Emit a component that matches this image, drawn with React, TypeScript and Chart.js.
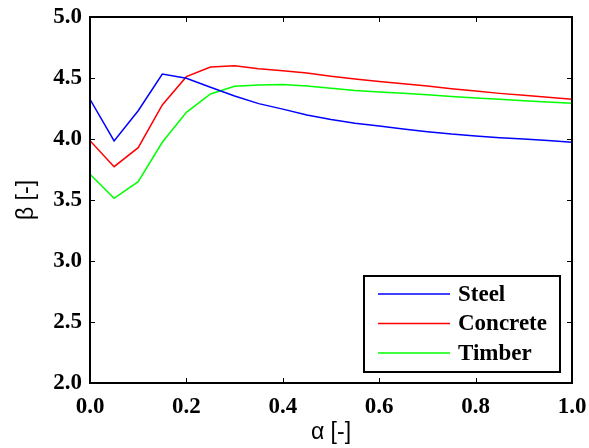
import React, { useEffect, useRef } from "react";
import { Chart, registerables } from "chart.js";

Chart.register(...registerables);

const alphaValues = [0, 0.05, 0.1, 0.15, 0.2, 0.25, 0.3, 0.35, 0.4, 0.45, 0.5, 0.55, 0.6, 0.65, 0.7, 0.75, 0.8, 0.85, 0.9, 0.95, 1.0];
const steel = [4.325, 3.984, 4.232, 4.533, 4.498, 4.424, 4.352, 4.29, 4.245, 4.197, 4.16, 4.13, 4.106, 4.082, 4.06, 4.04, 4.025, 4.011, 3.999, 3.987, 3.973];
const concrete = [3.986, 3.773, 3.929, 4.279, 4.511, 4.59, 4.6, 4.576, 4.56, 4.54, 4.515, 4.492, 4.472, 4.453, 4.434, 4.412, 4.393, 4.374, 4.358, 4.343, 4.325];
const timber = [3.711, 3.514, 3.65, 3.973, 4.219, 4.369, 4.432, 4.443, 4.447, 4.434, 4.415, 4.398, 4.386, 4.376, 4.362, 4.348, 4.336, 4.325, 4.314, 4.304, 4.293];
const seriesLabels = ["Steel", "Concrete", "Timber"];
const seriesColors = ["#0000ff", "#ff0000", "#00ff00"];
const xTicks = [0, 0.2, 0.4, 0.6, 0.8, 1.0];
const yTicks = [2.0, 2.5, 3.0, 3.5, 4.0, 4.5, 5.0];

const boxPlugin = {
  id: "matlabBox",
  afterDatasetsDraw(chart: any) {
    const { ctx, chartArea: a, scales } = chart;
    const xs = scales.x;
    const ys = scales.y;
    ctx.save();
    ctx.strokeStyle = "#000";
    ctx.lineWidth = 1;
    const tl = 5;
    ctx.beginPath();
    for (const v of xTicks) {
      const px = Math.round(xs.getPixelForValue(v)) + 0.5;
      ctx.moveTo(px, a.bottom);
      ctx.lineTo(px, a.bottom - tl);
      ctx.moveTo(px, a.top);
      ctx.lineTo(px, a.top + tl);
    }
    for (const v of yTicks) {
      const py = Math.round(ys.getPixelForValue(v)) + 0.5;
      ctx.moveTo(a.left, py);
      ctx.lineTo(a.left + tl, py);
      ctx.moveTo(a.right, py);
      ctx.lineTo(a.right - tl, py);
    }
    ctx.stroke();
    ctx.lineWidth = 2;
    ctx.strokeRect(a.left, a.top, a.right - a.left, a.bottom - a.top);

    // legend box
    const lx = 364, ly = 276, lw = 196, lh = 96;
    ctx.fillStyle = "#fff";
    ctx.fillRect(lx, ly, lw, lh);
    ctx.lineWidth = 2;
    ctx.strokeRect(lx, ly, lw, lh);
    ctx.font = "bold 23px 'Liberation Serif'";
    ctx.textBaseline = "middle";
    ctx.textAlign = "left";
    chart.data.datasets.forEach((ds: any, i: number) => {
      const y = ly + 18 + i * 29.5;
      ctx.strokeStyle = ds.borderColor;
      ctx.lineWidth = 1.5;
      ctx.beginPath();
      ctx.moveTo(lx + 14, y);
      ctx.lineTo(lx + 86, y);
      ctx.stroke();
      ctx.fillStyle = "#000";
      ctx.fillText(ds.label, lx + 94, y + 1);
    });
    ctx.restore();
  },
};

export default function App() {
  const ref = useRef<HTMLCanvasElement | null>(null);
  useEffect(() => {
    document.body.style.margin = "0";
    const canvas = ref.current!;
    const data = {
      datasets: [steel, concrete, timber].map((vals, i) => ({
        label: seriesLabels[i],
        data: vals.map((v, j) => ({ x: alphaValues[j], y: v })),
        borderColor: seriesColors[i],
        backgroundColor: seriesColors[i],
        borderWidth: 1.5,
        pointRadius: 0,
        tension: 0,
      })),
    };
    const chart = new Chart(canvas, {
      type: "line",
      data: data as any,
      options: {
        animation: false,
        responsive: false,
        maintainAspectRatio: false,
        layout: { padding: { top: 17, right: 17, left: 0, bottom: 0 } },
        plugins: { legend: { display: false }, tooltip: { enabled: false } },
        scales: {
          x: {
            type: "linear",
            min: 0,
            max: 1,
            afterBuildTicks: (s: any) => {
              s.ticks = xTicks.map((v) => ({ value: v }));
            },
            afterFit: (s: any) => {
              s.height = 65;
              s.paddingLeft = 0;
              s.paddingRight = 0;
            },
            grid: { display: false, drawTicks: false },
            border: { display: false },
            ticks: {
              color: "#000",
              font: { family: "Liberation Serif", size: 23, weight: "bold" },
              padding: 10,
              maxRotation: 0,
              callback: (v: any) => Number(v).toFixed(1),
            },
            title: {
              display: true,
              text: "α [-]",
              color: "#000",
              font: { family: "Liberation Sans", size: 23 },
              padding: { top: 0, bottom: 2 },
            },
          },
          y: {
            type: "linear",
            min: 2,
            max: 5,
            afterBuildTicks: (s: any) => {
              s.ticks = yTicks.map((v) => ({ value: v }));
            },
            afterFit: (s: any) => {
              s.width = 90;
              s.paddingTop = 0;
              s.paddingBottom = 0;
            },
            grid: { display: false, drawTicks: false },
            border: { display: false },
            ticks: {
              color: "#000",
              font: { family: "Liberation Serif", size: 23, weight: "bold" },
              padding: 8,
              callback: (v: any) => Number(v).toFixed(1),
            },
            title: {
              display: true,
              text: "β [-]",
              color: "#000",
              font: { family: "Liberation Sans", size: 23 },
              padding: { top: 13, bottom: 0 },
            },
          },
        },
      },
      plugins: [boxPlugin],
    } as any);
    return () => chart.destroy();
  }, []);
  return (
    <div style={{ width: 589, height: 448, position: "relative" }}>
      <canvas ref={ref} width={589} height={448} style={{ display: "block", width: 589, height: 448 }} />
    </div>
  );
}
